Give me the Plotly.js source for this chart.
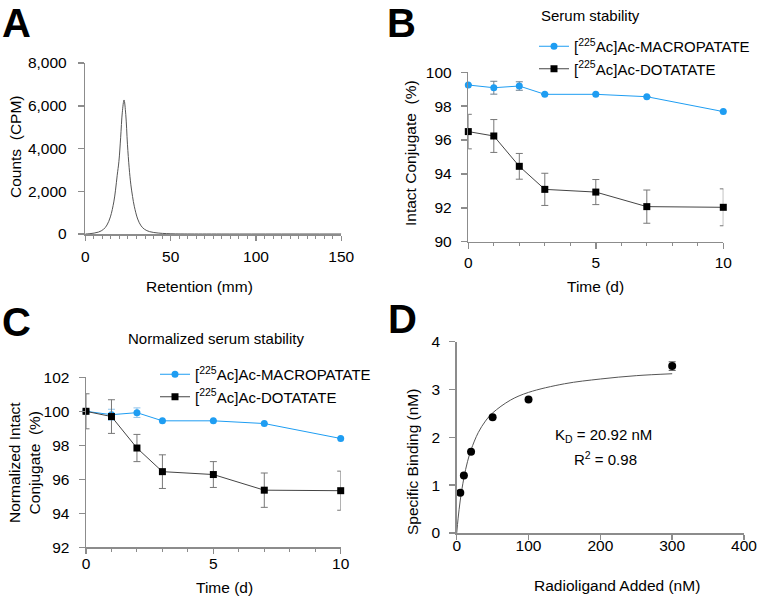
<!DOCTYPE html>
<html>
<head>
<meta charset="utf-8">
<script src="https://cdn.plot.ly/plotly-3.0.1.min.js"></script>
<style>html,body{margin:0;padding:0;background:#fff;}#chart{width:760px;height:600px;}</style>
</head>
<body>
<div id="chart"></div>
<script>
// ---------- data ----------
// Panel A: radio trace
const aRetention = [0, 2.7, 7.7, 10.7, 12.7, 14.7, 16.7, 17.7, 18.7, 19.7, 20.7, 21.7, 22.7, 23.7, 24.7, 25.7, 26.7, 27.7, 28.7, 30.7, 32.7, 34.7, 37.7, 42.7, 47.7, 52.7, 60, 80, 150];
const aCounts    = [0, 15, 90, 220, 420, 800, 1500, 2050, 2750, 3400, 4500, 5700, 6270, 5600, 4200, 3100, 2300, 1750, 1300, 700, 380, 220, 110, 45, 18, 6, 2, 0, 0];

// Panels B & C: time points (days)
const days = [0, 1, 2, 3, 5, 7, 10];
const seriesNames = ['[<sup>225</sup>Ac]Ac-MACROPATATE', '[<sup>225</sup>Ac]Ac-DOTATATE'];

// Panel B: serum stability (%)
const bMacro    = [99.25, 99.09, 99.19, 98.70, 98.70, 98.56, 97.68];
const bMacroErr = [0, 0.38, 0.25, 0, 0, 0, 0];
const bDota     = [96.50, 96.24, 94.45, 93.09, 92.93, 92.07, 92.03];
const bDotaErr  = [1.02, 0.97, 0.76, 0.95, 0.74, 0.98, 1.09];

// Panel C: normalized serum stability (%)
const cMacro    = [100, 99.80, 99.92, 99.44, 99.44, 99.28, 98.40];
const cMacroErr = [0, 0.32, 0.28, 0, 0, 0, 0];
const cDota     = [100, 99.69, 97.84, 96.45, 96.28, 95.36, 95.33];
const cDotaErr  = [1.03, 0.99, 0.80, 0.99, 0.76, 1.01, 1.15];

// Panel D: saturation binding
const dConc   = [5, 10, 20, 50, 100, 300];
const dBound  = [0.84, 1.20, 1.70, 2.42, 2.79, 3.49];
const dErr    = [0, 0, 0, 0, 0, 0.09];
const dFitX   = [0, 2, 5, 10, 15, 20, 30, 40, 50, 75, 100, 150, 200, 250, 300];
const dFitY   = [0, 0.31, 0.69, 1.15, 1.49, 1.74, 2.10, 2.34, 2.51, 2.78, 2.94, 3.12, 3.22, 3.29, 3.33];
const kdText = 'K<sub>D</sub> = 20.92 nM';
const r2Text = 'R<sup>2</sup> = 0.98';

// ---------- styling ----------
const W = 760, H = 600;
const px = v => v / W;
const py = v => 1 - v / H;
const FONT = 'Arial, "Liberation Sans", sans-serif';
const BLUE = '#1e9df2';
const AXC = '#8c8c8c';
const TICKSIZE = 15.5;

function axis(extra) {
  return Object.assign({
    showgrid: false, zeroline: false, showline: true, linecolor: AXC, linewidth: 1.5,
    ticks: 'outside', ticklen: 6, tickwidth: 1.5, tickcolor: AXC,
    tickfont: {family: FONT, size: TICKSIZE, color: '#000'}, ticklabelstandoff: 4,
    fixedrange: true
  }, extra);
}

const traces = [
  // A
  {x: aRetention, y: aCounts, xaxis: 'x', yaxis: 'y', mode: 'lines', line: {color: '#555', width: 1, shape: 'spline'}, showlegend: false, hoverinfo: 'skip'},
  // B
  {x: days, y: bMacro, xaxis: 'x2', yaxis: 'y2', name: seriesNames[0], legend: 'legend', mode: 'lines+markers',
   line: {color: BLUE, width: 1}, marker: {symbol: 'circle', size: 7, color: BLUE},
   error_y: {type: 'data', array: bMacroErr, visible: true, color: '#6b7f90', thickness: 1, width: 3.5}, cliponaxis: false},
  {x: days, y: bDota, xaxis: 'x2', yaxis: 'y2', name: seriesNames[1], legend: 'legend', mode: 'lines+markers',
   line: {color: '#444', width: 1}, marker: {symbol: 'square', size: 7, color: '#000'},
   error_y: {type: 'data', array: bDotaErr, visible: true, color: '#777', thickness: 1, width: 3.5}, cliponaxis: false},
  // C
  {x: days, y: cMacro, xaxis: 'x3', yaxis: 'y3', name: seriesNames[0], legend: 'legend2', mode: 'lines+markers',
   line: {color: BLUE, width: 1}, marker: {symbol: 'circle', size: 7, color: BLUE},
   error_y: {type: 'data', array: cMacroErr, visible: true, color: '#8fc3ea', thickness: 1, width: 3.5}, cliponaxis: false},
  {x: days, y: cDota, xaxis: 'x3', yaxis: 'y3', name: seriesNames[1], legend: 'legend2', mode: 'lines+markers',
   line: {color: '#444', width: 1}, marker: {symbol: 'square', size: 7, color: '#000'},
   error_y: {type: 'data', array: cDotaErr, visible: true, color: '#777', thickness: 1, width: 3.5}, cliponaxis: false},
  // D
  {x: dFitX, y: dFitY, xaxis: 'x4', yaxis: 'y4', mode: 'lines', line: {color: '#555', width: 1, shape: 'spline'}, showlegend: false, hoverinfo: 'skip', cliponaxis: false},
  {x: dConc, y: dBound, xaxis: 'x4', yaxis: 'y4', mode: 'markers', marker: {symbol: 'circle', size: 8, color: '#000'},
   error_y: {type: 'data', array: dErr, visible: true, color: '#555', thickness: 1, width: 3.5}, showlegend: false, cliponaxis: false}
];

function ann(text, x, y, size, extra) {
  return Object.assign({text: text, x: px(x), y: py(y), xref: 'paper', yref: 'paper', showarrow: false,
    xanchor: 'center', yanchor: 'middle', font: {family: FONT, size: size, color: '#000'}}, extra || {});
}

const annotations = [
  ann('<b>A</b>', 16, 0, 40, {yanchor: 'top', borderpad: 0}),
  ann('<b>B</b>', 401, 0, 40, {yanchor: 'top', borderpad: 0}),
  ann('<b>C</b>', 16, 322, 40),
  ann('<b>D</b>', 402, 319, 40),
  ann('Serum stability', 590, 16, 15),
  ann('Normalized serum stability', 216, 338, 15),
  ann('Retention (mm)', 199, 287, 15.5),
  ann('Time (d)', 595, 287, 15.5),
  ann('Time (d)', 225, 587, 15.5),
  ann('Radioligand Added (nM)', 617, 585, 15.5),
  ann('Counts  (CPM)', 15, 147, 15.5, {textangle: -90}),
  ann('Intact Conjugate  (%)', 410, 153, 15.5, {textangle: -90}),
  ann('Normalized Intact<br>Conjugate  (%)', 25, 463, 15.5, {textangle: -90}),
  ann('Specific Binding (nM)', 412, 462, 15.5, {textangle: -90}),
  ann(kdText, 603, 435, 15),
  ann(r2Text, 605, 458, 15)
];

const legendBase = {bgcolor: 'rgba(0,0,0,0)', font: {family: FONT, size: 15, color: '#000'},
  xanchor: 'left', yanchor: 'top', itemwidth: 30, tracegroupgap: 0};

const layout = {
  width: W, height: H, margin: {l: 0, r: 0, t: 0, b: 0},
  paper_bgcolor: '#fff', plot_bgcolor: '#fff', showlegend: true,
  font: {family: FONT, color: '#000'},
  xaxis:  axis({domain: [px(85.3), px(341.3)], range: [0, 150], anchor: 'y', tickvals: [0, 50, 100, 150], ticklen: 5,
                minor: {dtick: 5, ticks: 'outside', ticklen: 3, tickcolor: AXC, tickwidth: 1}, ticklabelstandoff: 3}),
  yaxis:  axis({domain: [py(234), py(63)], range: [0, 8000], anchor: 'x', dtick: 2000, tickformat: ',d', ticklabelstandoff: 8}),
  xaxis2: axis({domain: [px(468.3), px(723.3)], range: [0, 10], anchor: 'y2', dtick: 5,
                minor: {dtick: 1, ticks: 'outside', ticklen: 3, tickcolor: AXC, tickwidth: 1}, ticklabelstandoff: 0}),
  yaxis2: axis({domain: [py(241.7), py(72.3)], range: [90, 100], anchor: 'x2', dtick: 2, ticklabelstandoff: 6}),
  xaxis3: axis({domain: [px(86), px(340.7)], range: [0, 10], anchor: 'y3', dtick: 5, ticklen: 5,
                minor: {dtick: 1, ticks: 'outside', ticklen: 3, tickcolor: AXC, tickwidth: 1}, ticklabelstandoff: -3}),
  yaxis3: axis({domain: [py(547.3), py(377.3)], range: [92, 102], anchor: 'x3', dtick: 2, ticklabelstandoff: 6}),
  xaxis4: axis({domain: [px(456.7), px(744)], range: [0, 400], anchor: 'y4', dtick: 100, ticklen: 5, ticklabelstandoff: -7}),
  yaxis4: axis({domain: [py(533), py(341.7)], range: [0, 4], anchor: 'x4', dtick: 1, ticklabelstandoff: 6}),
  legend:  Object.assign({}, legendBase, {x: px(534), y: py(30)}),
  legend2: Object.assign({}, legendBase, {x: px(155), y: py(358)}),
  annotations: annotations
};

Plotly.newPlot('chart', traces, layout, {displayModeBar: false, staticPlot: true});
</script>
</body>
</html>
